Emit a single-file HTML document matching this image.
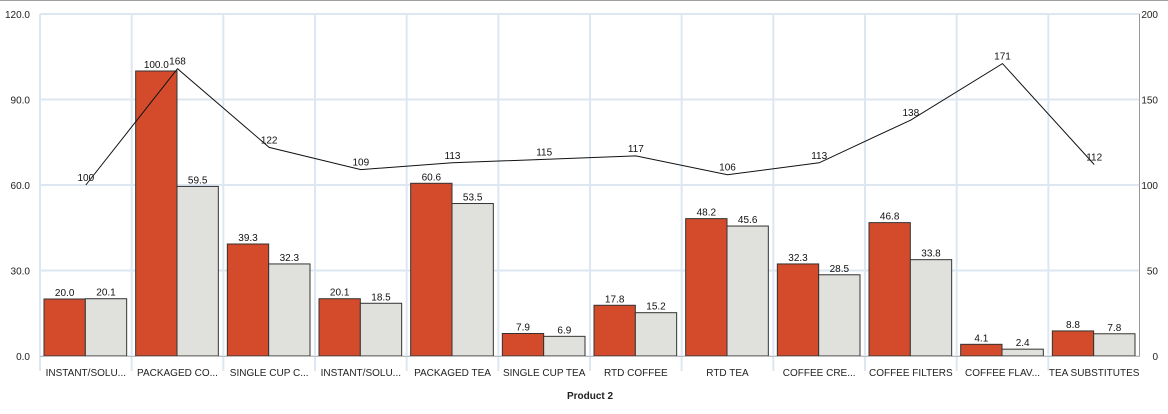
<!DOCTYPE html>
<html><head><meta charset="utf-8">
<style>
html,body{margin:0;padding:0;background:#fff;}
svg{display:block;font-family:"Liberation Sans",Arial,sans-serif;}
</style></head>
<body>
<svg id="chart" width="1168" height="414" xmlns="http://www.w3.org/2000/svg">
<line x1="0" y1="0.5" x2="1168" y2="0.5" stroke="#a0a0a0" stroke-width="1"/>
<g id="grid"></g>
<g id="bars"></g>
<g id="line"></g>
<g id="axes"></g>
<text x="590" y="399" text-anchor="middle" font-size="10" font-weight="bold" fill="#222">Product 2</text>
</svg>
<script>
const categories = ["INSTANT/SOLU...","PACKAGED CO...","SINGLE CUP C...","INSTANT/SOLU...","PACKAGED TEA","SINGLE CUP TEA","RTD COFFEE","RTD TEA","COFFEE CRE...","COFFEE FILTERS","COFFEE FLAV...","TEA SUBSTITUTES"];
const series1 = [20.0,100.0,39.3,20.1,60.6,7.9,17.8,48.2,32.3,46.8,4.1,8.8];
const series2 = [20.1,59.5,32.3,18.5,53.5,6.9,15.2,45.6,28.5,33.8,2.4,7.8];
const lineValues = [100,168,122,109,113,115,117,106,113,138,171,112];
const leftTicks = [0,30,60,90,120];
const rightTicks = [0,50,100,150,200];

const NS="http://www.w3.org/2000/svg";
const L=40,R=1140,T=14,B=356;
const bw=(R-L)/categories.length;
const yL=v=>B-(v/120)*(B-T);
const yR=v=>B-(v/200)*(B-T);
function el(tag,attrs,parent,text){const e=document.createElementNS(NS,tag);for(const k in attrs)e.setAttribute(k,attrs[k]);if(text!==undefined)e.textContent=text;parent.appendChild(e);return e;}
const grid=document.getElementById('grid'),bars=document.getElementById('bars'),line=document.getElementById('line'),axes=document.getElementById('axes');

leftTicks.forEach(t=>{
  const g=el('line',{x1:L,x2:R,y1:yL(t),y2:yL(t),stroke:'#dde7f2','stroke-width':2},grid);
  
  
  const tx=el('text',{x:30,y:yL(t)+4,'text-anchor':'end','font-size':10,fill:'#222'},axes,t.toFixed(1));
  
  
});
rightTicks.forEach(t=>{
  const tx=el('text',{x:1158,y:yR(t)+4,'text-anchor':'end','font-size':10,fill:'#222'},axes,String(t));
  
  
});
for(let i=0;i<categories.length;i++){
  const x=L+i*bw;
  const g=el('line',{x1:x,x2:x,y1:T,y2:B+15,stroke:'#dde7f2','stroke-width':2},grid);
  
  
}
categories.forEach((c,i)=>{
  const x0=L+i*bw;
  const w=(bw-9)/2;
  const ra=el('rect',{x:x0+4,y:yL(series1[i]),width:w,height:B-yL(series1[i]),fill:'#d34b2b',stroke:'#333','stroke-width':1},bars);
  
  
  const rb=el('rect',{x:x0+4+w,y:yL(series2[i]),width:w,height:B-yL(series2[i]),fill:'#e0e0dc',stroke:'#333','stroke-width':1},bars);
  
  
  const la=el('text',{x:x0+4+w/2,y:yL(series1[i])-3,'text-anchor':'middle','font-size':10,fill:'#111'},bars,series1[i].toFixed(1));
  
  
  const lb=el('text',{x:x0+4+1.5*w,y:yL(series2[i])-3,'text-anchor':'middle','font-size':10,fill:'#111'},bars,series2[i].toFixed(1));
  
  
  const cl=el('text',{x:x0+bw/2,y:376,'text-anchor':'middle','font-size':10,fill:'#222'},axes,c);
  
  
});
const base=el('line',{x1:L,x2:R,y1:B+0.5,y2:B+0.5,stroke:'#bbb','stroke-width':1},axes);


const ra=el('line',{x1:R-0.5,x2:R-0.5,y1:T,y2:B,stroke:'#999','stroke-width':1},axes);


const pts=lineValues.map((v,i)=>[L+(i+0.5)*bw,yR(v)]);
const pl=el('polyline',{points:pts.map(p=>p.join(',')).join(' '),fill:'none',stroke:'#111','stroke-width':1},line);


lineValues.forEach((v,i)=>{
  const t=el('text',{x:pts[i][0],y:pts[i][1]-4,'text-anchor':'middle','font-size':10,fill:'#111'},line,String(v));
  
  
});
</script>
</body></html>
